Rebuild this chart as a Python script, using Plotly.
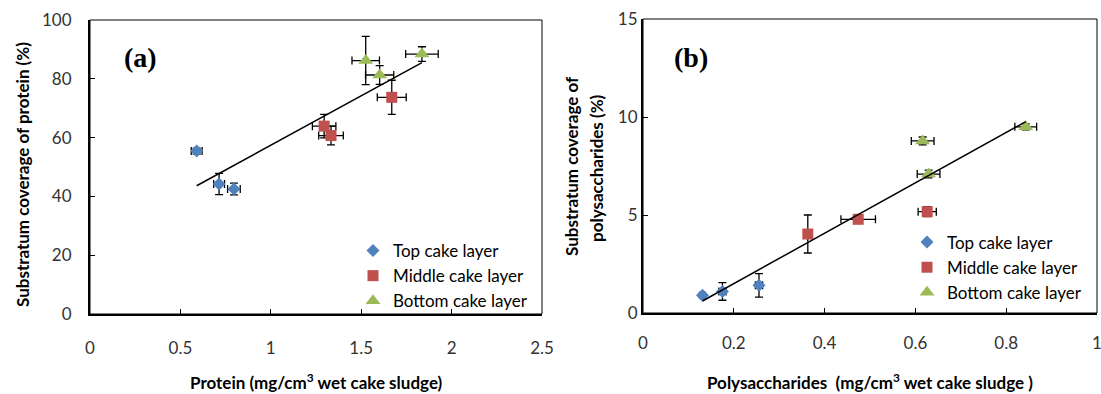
import plotly.graph_objects as go

# ---------------- data ----------------
layers = ["Top cake layer", "Middle cake layer", "Bottom cake layer"]
colors = ["#4F81BD", "#C0504D", "#9BBB59"]
symbols = ["diamond", "square", "triangle-up"]
sizes = [10, 11, 13]

# Panel (a): protein
prot_top_x = [0.59, 0.714, 0.796]
prot_top_y = [55.4, 44.2, 42.5]
prot_top_ex = [0.03, 0.03, 0.035]
prot_top_ey = [1.0, 3.6, 2.0]

prot_mid_x = [1.295, 1.333, 1.669]
prot_mid_y = [63.9, 60.7, 73.7]
prot_mid_ex = [0.065, 0.068, 0.08]
prot_mid_ey = [4.0, 3.2, 5.8]

prot_bot_x = [1.525, 1.602, 1.836]
prot_bot_y = [86.2, 81.3, 88.4]
prot_bot_ex = [0.076, 0.078, 0.09]
prot_bot_ey = [8.2, 3.2, 2.5]

prot_trend_slope = 33.6
prot_trend_intercept = 23.8

# Panel (b): polysaccharides
poly_top_x = [0.131, 0.175, 0.2555]
poly_top_y = [0.9, 1.1, 1.41]
poly_top_ex = [0.005, 0.008, 0.008]
poly_top_ey = [0.1, 0.45, 0.6]

poly_mid_x = [0.363, 0.474, 0.626]
poly_mid_y = [4.03, 4.78, 5.17]
poly_mid_ex = [0.008, 0.038, 0.02]
poly_mid_ey = [0.97, 0.15, 0.25]

poly_bot_x = [0.616, 0.629, 0.843]
poly_bot_y = [8.78, 7.09, 9.5]
poly_bot_ex = [0.025, 0.025, 0.024]
poly_bot_ey = [0.2, 0.2, 0.15]

poly_trend_slope = 12.85
poly_trend_intercept = -1.07

FONT = "Lato, 'Open Sans', sans-serif"

fig = go.Figure()

def add_series(xs, ys, exs, eys, i, xa, ya, legend):
    fig.add_trace(go.Scatter(
        x=xs, y=ys, mode="markers", name=layers[i],
        xaxis=xa, yaxis=ya, legend=legend,
        marker=dict(symbol=symbols[i], color=colors[i], size=sizes[i]),
        error_x=dict(type="data", array=exs, color="black", thickness=1.3, width=4),
        error_y=dict(type="data", array=eys, color="black", thickness=1.3, width=4),
    ))

panel_a = [(prot_top_x, prot_top_y, prot_top_ex, prot_top_ey),
           (prot_mid_x, prot_mid_y, prot_mid_ex, prot_mid_ey),
           (prot_bot_x, prot_bot_y, prot_bot_ex, prot_bot_ey)]
panel_b = [(poly_top_x, poly_top_y, poly_top_ex, poly_top_ey),
           (poly_mid_x, poly_mid_y, poly_mid_ex, poly_mid_ey),
           (poly_bot_x, poly_bot_y, poly_bot_ex, poly_bot_ey)]

for i, s in enumerate(panel_a):
    add_series(*s, i, "x", "y", "legend")
for i, s in enumerate(panel_b):
    add_series(*s, i, "x2", "y2", "legend2")

# trend lines
all_px = prot_top_x + prot_mid_x + prot_bot_x
tx = [min(all_px), max(all_px)]
fig.add_trace(go.Scatter(x=tx, y=[prot_trend_slope * v + prot_trend_intercept for v in tx],
                         mode="lines", line=dict(color="black", width=1.5),
                         xaxis="x", yaxis="y", showlegend=False, hoverinfo="skip"))
all_qx = poly_top_x + poly_mid_x + poly_bot_x
qx = [min(all_qx), max(all_qx)]
fig.add_trace(go.Scatter(x=qx, y=[poly_trend_slope * v + poly_trend_intercept for v in qx],
                         mode="lines", line=dict(color="black", width=1.5),
                         xaxis="x2", yaxis="y2", showlegend=False, hoverinfo="skip"))

W, H = 1101, 394
def px(v): return v / W
def py(v): return (H - v) / H

axis_common = dict(showgrid=False, zeroline=False, showline=True, linecolor="black",
                   linewidth=2, ticks="inside", ticklen=5, tickwidth=1.3, tickcolor="black",
                   automargin=False, ticklabeloverflow="allow",
                   tickfont=dict(family=FONT, size=17, color="#333333"), fixedrange=True)

fig.update_layout(
    template="none",
    width=W, height=H, margin=dict(l=0, r=0, t=0, b=0, pad=0, autoexpand=False),
    paper_bgcolor="white", plot_bgcolor="white",
    xaxis=dict(domain=[px(90), px(542)], range=[0, 2.5], dtick=0.5, anchor="y",
               ticklabelstandoff=18, **axis_common),
    yaxis=dict(domain=[py(314), py(20)], range=[0, 100], dtick=20, anchor="x",
               ticklabelstandoff=13, **axis_common),
    xaxis2=dict(domain=[px(643), px(1097)], range=[0, 1], dtick=0.2, anchor="y2",
                ticklabelstandoff=14, **axis_common),
    yaxis2=dict(domain=[py(313), py(19)], range=[0, 15], dtick=5, anchor="x2",
                ticklabelstandoff=0, **axis_common),
    legend=dict(x=px(353), y=py(233), xanchor="left", yanchor="top",
                font=dict(family=FONT, size=17, color="black"), bgcolor="rgba(0,0,0,0)"),
    legend2=dict(x=px(907), y=py(224.5), xanchor="left", yanchor="top",
                 font=dict(family=FONT, size=17, color="black"), bgcolor="rgba(0,0,0,0)"),
    showlegend=True,
)

# top/right borders
for xr, yr in (("x domain", "y domain"), ("x2 domain", "y2 domain")):
    fig.add_shape(type="rect", xref=xr, yref=yr, x0=0, x1=1, y0=0, y1=1,
                  line=dict(color="black", width=1), layer="below")

title_font = dict(family=FONT, size=17, color="black")
def note(text, x, y, font, angle=0):
    fig.add_annotation(text=text, xref="paper", yref="paper", x=px(x), y=py(y),
                       xanchor="center", yanchor="middle", showarrow=False,
                       textangle=angle, font=font)

note("<b>Protein (mg/cm<sup>3</sup> wet cake sludge)</b>", 316, 381, title_font)
note("<b>Polysaccharides  (mg/cm<sup>3</sup> wet cake sludge )</b>", 870, 381, title_font)
note("<b>Substratum coverage of protein (%)</b>", 22, 175, title_font, -90)
note("<b>Substratum coverage of</b>", 571, 166, title_font, -90)
note("<b>polysaccharides (%)</b>", 597, 168, title_font, -90)

panel_font = dict(family="'Liberation Serif', 'Times New Roman', serif", size=28, color="black")
note("<b>(a)</b>", 140, 57, panel_font)
note("<b>(b)</b>", 691, 57, panel_font)

fig.write_html("out.html")
